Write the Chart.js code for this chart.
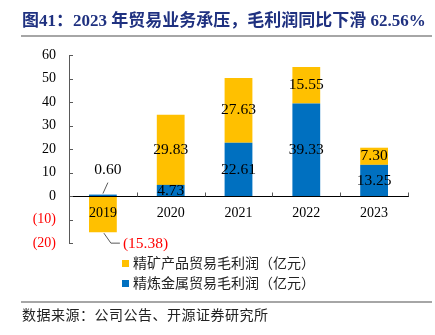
<!DOCTYPE html>
<html>
<head>
<meta charset="utf-8">
<script src="https://cdn.jsdelivr.net/npm/chart.js@4.4.1/dist/chart.umd.min.js"></script>
<style>
  html, body { margin: 0; padding: 0; background: #fff; }
  #wrap { position: relative; width: 435px; height: 335px; overflow: hidden; }
  #c { position: absolute; left: 0; top: 0; }
  #title { position: absolute; left: 22px; top: 6px; font: bold 17px "Liberation Serif", "Noto Sans CJK SC", serif; color: #1F3180; white-space: nowrap; }
  .rule { position: absolute; left: 21px; width: 411px; height: 2px; background: #A6A6A6; }
  #legend { position: absolute; left: 122px; top: 252px; font: 14px "Noto Sans CJK SC", sans-serif; color: #222; }
  .li { height: 20px; line-height: 20px; white-space: nowrap; }
  .sw { display: inline-block; width: 7px; height: 7px; margin-right: 4px; vertical-align: 1px; }
  #source { position: absolute; left: 22px; top: 304px; font: 14px "Noto Sans CJK SC", sans-serif; color: #222; white-space: nowrap; letter-spacing: 0.5px; }
</style>
</head>
<body>
<div id="wrap">
  <canvas id="c" width="435" height="335"></canvas>
  <div id="title">图41：2023 年贸易业务承压，毛利润同比下滑 62.56%</div>
  <div class="rule" style="top:35px"></div>
  <div id="legend"></div>
  <div class="rule" style="top:301px"></div>
  <div id="source">数据来源：公司公告、开源证券研究所</div>
</div>
<script>
const categories = ['2019', '2020', '2021', '2022', '2023'];
const refinedMetal = [0.60, 4.73, 22.61, 39.33, 13.25];   // 精炼金属贸易毛利润（亿元）
const concentrate = [-15.38, 29.83, 27.63, 15.55, 7.30];  // 精矿产品贸易毛利润（亿元）
const yTicks = [-20, -10, 0, 10, 20, 30, 40, 50, 60];

const BLUE = '#0070C0', GOLD = '#FFC000';
const FONT = '"Liberation Serif", "Times New Roman", serif';

function fmt(v) {
  const s = Math.abs(v).toFixed(2);
  return v < 0 ? '(' + s + ')' : s;
}

const labelPlugin = {
  id: 'labels',
  afterDatasetsDraw(chart) {
    const ctx = chart.ctx;
    ctx.save();
    ctx.font = '15.5px ' + FONT;
    ctx.textAlign = 'center';
    ctx.textBaseline = 'middle';
    chart.data.datasets.forEach((ds, di) => {
      const meta = chart.getDatasetMeta(di);
      meta.data.forEach((el, i) => {
        const v = ds.data[i];
        const top = Math.min(el.y, el.base), bot = Math.max(el.y, el.base);
        if (Math.abs(v) < 1) {
          ctx.strokeStyle = '#595959'; ctx.lineWidth = 1;
          ctx.beginPath(); ctx.moveTo(el.x, top - 1); ctx.lineTo(el.x + 5, top - 12); ctx.stroke();
          ctx.fillStyle = '#000';
          ctx.fillText(fmt(v), el.x + 5, top - 25);
        } else if (v < 0) {
          ctx.strokeStyle = '#595959'; ctx.lineWidth = 1;
          ctx.beginPath(); ctx.moveTo(el.x + 1, bot + 1); ctx.lineTo(el.x + 8, bot + 11); ctx.lineTo(el.x + 17, bot + 11); ctx.stroke();
          ctx.fillStyle = '#FF0000';
          ctx.textAlign = 'left';
          ctx.fillText(fmt(v), el.x + 20, bot + 12);
          ctx.textAlign = 'center';
        } else {
          ctx.fillStyle = '#000';
          ctx.fillText(fmt(v), el.x, (top + bot) / 2);
        }
      });
    });
    ctx.restore();
  }
};

const tickPlugin = {
  id: 'innerTicks',
  afterDraw(chart) {
    const ctx = chart.ctx;
    const ys = chart.scales.y;
    const ca = chart.chartArea;
    ctx.save();
    ctx.strokeStyle = '#595959'; ctx.lineWidth = 1;
    ctx.beginPath();
    yTicks.forEach(t => {
      const y = Math.round(ys.getPixelForValue(t)) + 0.5;
      ctx.moveTo(ca.left, y); ctx.lineTo(ca.left + 4, y);
    });
    const y0 = Math.round(ys.getPixelForValue(0)) + 0.5;
    const n = categories.length;
    for (let i = 1; i <= n; i++) {
      const x = Math.round(ca.left + (ca.right - ca.left) * i / n) + 0.5;
      ctx.moveTo(x, y0); ctx.lineTo(x, y0 - 4);
    }
    ctx.stroke();
    ctx.restore();
  }
};

const chart = new Chart(document.getElementById('c'), {
  type: 'bar',
  data: {
    labels: categories,
    datasets: [
      { label: '精炼金属贸易毛利润（亿元）', data: refinedMetal, backgroundColor: BLUE, stack: 's', order: 1 },
      { label: '精矿产品贸易毛利润（亿元）', data: concentrate, backgroundColor: GOLD, stack: 's', order: 2 }
    ]
  },
  options: {
    responsive: false,
    animation: false,
    layout: { padding: { left: 0, top: 55, right: 27, bottom: 92 } },
    datasets: { bar: { categoryPercentage: 0.82, barPercentage: 0.5 } },
    plugins: { legend: { display: false }, tooltip: { enabled: false } },
    scales: {
      x: {
        stacked: true,
        position: { y: 0 },
        grid: { display: false, drawTicks: false },
        border: { display: true, color: '#000', width: 1, z: 1 },
        ticks: { z: 1, color: '#000', font: { family: FONT, size: 14 }, padding: 9, maxRotation: 0, autoSkip: false }
      },
      y: {
        stacked: true,
        min: -20, max: 60,
        afterBuildTicks(scale) { scale.ticks = yTicks.map(v => ({ value: v })); },
        afterFit(scale) { scale.width = 69; },
        grid: { display: false, drawTicks: false },
        border: { display: true, color: '#595959', width: 1 },
        ticks: {
          padding: 13,
          font: { family: FONT, size: 14 },
          color: ctx => (ctx.tick && ctx.tick.value < 0) ? '#FF0000' : '#000',
          callback: v => v < 0 ? '(' + Math.abs(v) + ')' : String(v)
        }
      }
    }
  },
  plugins: [labelPlugin, tickPlugin]
});

const lg = document.getElementById('legend');
[1, 0].forEach(i => {
  const ds = chart.data.datasets[i];
  const d = document.createElement('div');
  d.className = 'li';
  d.innerHTML = '<span class="sw" style="background:' + ds.backgroundColor + '"></span>' + ds.label;
  lg.appendChild(d);
});
</script>
</body>
</html>
